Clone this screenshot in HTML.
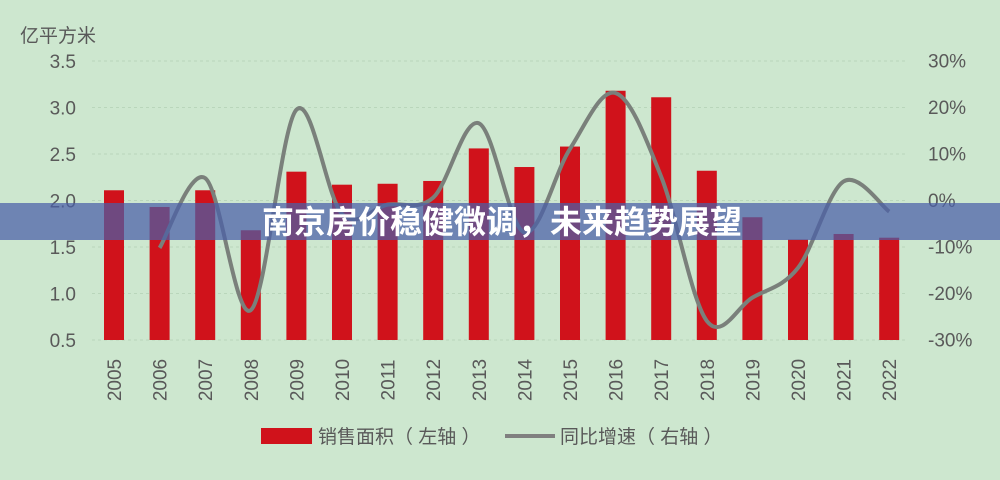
<!DOCTYPE html>
<html><head><meta charset="utf-8"><style>
body{margin:0;width:1000px;height:475px;overflow:hidden;background:#cde7cf;}
svg text{font-family:"Liberation Sans","Noto Sans CJK SC",sans-serif;}
</style></head><body>
<svg id="c" width="1000" height="475" xmlns="http://www.w3.org/2000/svg">
<rect width="1000" height="475" fill="#cde7cf"/>
<g id="grid"></g><g id="bars"></g><g id="line"></g><g id="axes"></g>
<text x="20" y="42" font-size="19" fill="#595959">亿平方米</text>
<g>
<rect x="261" y="428" width="51" height="16" fill="#d0121b"/>
<text x="318" y="443" font-size="19" fill="#595959">销售面积（ 左轴 ）</text>
<line x1="505" y1="436" x2="555" y2="436" stroke="#808080" stroke-width="4"/>
<text x="560" y="443" font-size="19" fill="#595959">同比增速（ 右轴 ）</text>
</g>
<rect x="0" y="203" width="1000" height="37" fill="#4a5ea8" fill-opacity="0.72"/>
<text x="502" y="233" text-anchor="middle" font-size="32" font-weight="bold" fill="#fff">南京房价稳健微调，未来趋势展望</text>
</svg>
<script>
const years=["2005","2006","2007","2008","2009","2010","2011","2012","2013","2014","2015","2016","2017","2018","2019","2020","2021","2022"];
const area=[2.11,1.93,2.11,1.68,2.31,2.17,2.18,2.21,2.56,2.36,2.58,3.18,3.11,2.32,1.82,1.58,1.64,1.60];
const growth=[null,-10.3,4.7,-23.7,19.4,-3,-1,0.5,16.5,-7,11,23,5,-26,-21,-14.6,4,-2.5];
const leftTicks=["0.5","1.0","1.5","2.0","2.5","3.0","3.5"];
const rightTicks=["-30%","-20%","-10%","0%","10%","20%","30%"];
const NS="http://www.w3.org/2000/svg";
const yL=v=>340-(v-0.5)*93;
const yR=v=>200-v*4.65;
const xC=i=>114+i*45.6;
function mk(t,a,p){const e=document.createElementNS(NS,t);for(const k in a)e.setAttribute(k,a[k]);p.appendChild(e);return e;}
const G=document.getElementById('grid'),B=document.getElementById('bars'),L=document.getElementById('line'),A=document.getElementById('axes');
leftTicks.forEach((t,i)=>{const v=parseFloat(t),y=yL(v);
 const g=mk('line',{x1:92,x2:905,y1:y,y2:y,stroke:'#b9d6bb','stroke-dasharray':'3 3'},G);
 
 
 const tx=mk('text',{x:76,y:y+7,'text-anchor':'end','font-size':19,fill:'#595959'},A);tx.textContent=t;
 
 
});
rightTicks.forEach(t=>{const y=yR(parseFloat(t));
 const tx=mk('text',{x:928,y:y+7,'font-size':19,fill:'#595959'},A);tx.textContent=t;
 
 
});
years.forEach((yr,i)=>{const x=xC(i),top=yL(area[i]);
 const r=mk('rect',{x:x-10,y:top,width:20,height:340-top,fill:'#d0121b'},B);
 
 
 const tx=mk('text',{x:x+7,y:380,'text-anchor':'middle','font-size':19,fill:'#595959',transform:`rotate(-90 ${x+7} 380)`},A);tx.textContent=yr;
 
 
});
const pts=[];growth.forEach((g,i)=>{if(g!==null)pts.push([xC(i),yR(g)]);});
let d=`M${pts[0][0]},${pts[0][1]}`;
for(let i=0;i<pts.length-1;i++){const p0=pts[Math.max(0,i-1)],p1=pts[i],p2=pts[i+1],p3=pts[Math.min(pts.length-1,i+2)];
 d+=` C${p1[0]+(p2[0]-p0[0])/6},${p1[1]+(p2[1]-p0[1])/6} ${p2[0]-(p3[0]-p1[0])/6},${p2[1]-(p3[1]-p1[1])/6} ${p2[0]},${p2[1]}`;}
const pl=mk('path',{d:d,fill:'none',stroke:'#7a807b','stroke-width':4},L);


</script>
</body></html>
